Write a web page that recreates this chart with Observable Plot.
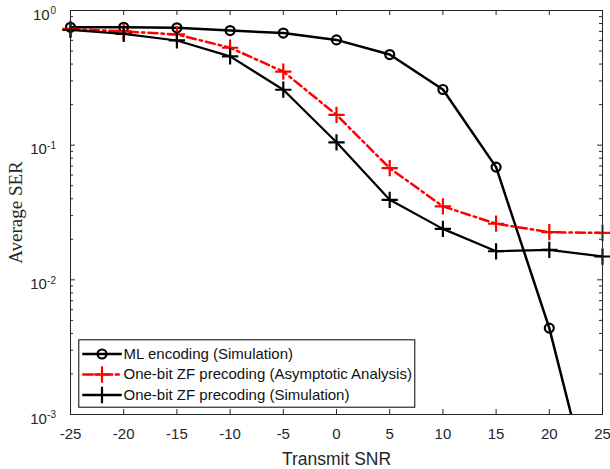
<!DOCTYPE html>
<html>
<head>
<meta charset="utf-8">
<script src="https://cdn.jsdelivr.net/npm/d3@7"></script>
<script src="https://cdn.jsdelivr.net/npm/@observablehq/plot@0.6"></script>
<style>
  html, body { margin: 0; padding: 0; background: #fff; }
</style>
</head>
<body>
<div id="chart"></div>
<script>
// ---- data ----
const snr = [-25, -20, -15, -10, -5, 0, 5, 10, 15, 20, 25];
const mlSim  = [0.75, 0.75, 0.744, 0.71, 0.68, 0.605, 0.471, 0.259, 0.0687, 0.00438, 0.00012];
const zfAsym = [0.73, 0.70, 0.664, 0.529, 0.352, 0.168, 0.0675, 0.0351, 0.0261, 0.0226, 0.0223];
const zfSim  = [0.719, 0.671, 0.599, 0.456, 0.258, 0.105, 0.0393, 0.0239, 0.0163, 0.0167, 0.0149];
const seriesNames = [
  "ML encoding (Simulation)",
  "One-bit ZF precoding (Asymptotic Analysis)",
  "One-bit ZF precoding (Simulation)"
];
const xTicks = [-25, -20, -15, -10, -5, 0, 5, 10, 15, 20, 25];
const yMajor = [1, 0.1, 0.01, 0.001];
const yExp = ["0", "-1", "-2", "-3"];
const yMinor = [];
for (const d of [0.001, 0.01, 0.1]) for (let m = 2; m <= 9; m++) yMinor.push(m * d);

const W = 610, H = 469;
const mL = 70, mR = 8, mT = 10, mB = 55;
const fw = W - mL - mR, fh = H - mT - mB;
const axisColor = "#262626";
const font = "'Liberation Sans', Arial, sans-serif";
const yMin = 0.001;

const ml = snr.map((x, i) => ({x, y: mlSim[i]}));
const za = snr.map((x, i) => ({x, y: zfAsym[i]}));
const zs = snr.map((x, i) => ({x, y: zfSim[i]}));
const inView = d => d.y >= yMin;

const redDash = "9,4,2.5,4";
const plusR = 5.3, circR = 4.5;
const legY = [343.5, 364, 384.5];
const styles = [
  {stroke: "black", dash: null, symbol: "circle", r: circR},
  {stroke: "#ff0000", dash: redDash, symbol: "plus", r: plusR},
  {stroke: "black", dash: null, symbol: "plus", r: plusR}
];

const legendMarks = [];
seriesNames.forEach((name, i) => {
  const s = styles[i];
  legendMarks.push(Plot.frame({anchor: "top", insetTop: legY[i], insetLeft: 13, insetRight: fw - 50,
    stroke: s.stroke, strokeWidth: 2.5, strokeDasharray: s.dash}));
  legendMarks.push(Plot.dot([name], {frameAnchor: "top-left", dx: 31.5, dy: legY[i],
    symbol: s.symbol, r: s.r, stroke: s.stroke, strokeWidth: 2.2, fill: "none"}));
  legendMarks.push(Plot.text([name], {frameAnchor: "top-left", dx: 53, dy: legY[i], text: d => d,
    textAnchor: "start", lineAnchor: "middle", fontSize: 15, fill: "#111"}));
});

const chart = Plot.plot({
  width: W, height: H,
  marginLeft: mL, marginRight: mR, marginTop: mT, marginBottom: mB,
  style: {fontFamily: font, background: "#fff"},
  x: {domain: [-25, 25], axis: null},
  y: {type: "log", domain: [yMin, 1], axis: null},
  marks: [
    // ticks (inward)
    Plot.tickX(xTicks, {x: d => d, insetTop: fh - 5, stroke: axisColor}),
    Plot.tickX(xTicks, {x: d => d, insetBottom: fh - 5, stroke: axisColor}),
    Plot.tickY(yMajor, {y: d => d, insetRight: fw - 5, stroke: axisColor}),
    Plot.tickY(yMajor, {y: d => d, insetLeft: fw - 5, stroke: axisColor}),
    Plot.tickY(yMinor, {y: d => d, insetRight: fw - 3, stroke: axisColor}),
    Plot.tickY(yMinor, {y: d => d, insetLeft: fw - 3, stroke: axisColor}),
    // tick labels
    Plot.text(xTicks, {x: d => d, frameAnchor: "bottom", dy: 19.7, text: d => String(d),
      fontSize: 15, fill: axisColor, textAnchor: "middle", lineAnchor: "middle"}),
    Plot.text(yMajor.filter((d, i) => i === 0), {y: d => d, frameAnchor: "left", dx: -20.8, dy: 4.5,
      text: d => "10", textAnchor: "end", fontSize: 15, fill: axisColor, lineAnchor: "middle"}),
    Plot.text(yMajor.filter((d, i) => i > 0), {y: d => d, frameAnchor: "left", dx: -23.6, dy: 4.5,
      text: d => "10", textAnchor: "end", fontSize: 15, fill: axisColor, lineAnchor: "middle"}),
    Plot.text(yMajor, {y: d => d, frameAnchor: "left", dx: -14.5, dy: 0.5,
      text: (d, i) => yExp[i], textAnchor: "end", fontSize: 10, fill: axisColor, lineAnchor: "middle"}),
    // axis titles
    Plot.text(["Transmit SNR"], {frameAnchor: "bottom", dy: 44.5, text: d => d, fontSize: 17.5,
      fill: axisColor, textAnchor: "middle", lineAnchor: "middle"}),
    Plot.text(["Average SER"], {frameAnchor: "left", dx: -54.5, text: d => d, rotate: -90,
      textAnchor: "middle", lineAnchor: "middle",
      fontSize: 19, fontFamily: "'Liberation Serif', 'Times New Roman', serif", fill: axisColor}),
    // data
    Plot.line(ml, {x: "x", y: "y", stroke: "black", strokeWidth: 2.5, clip: true}),
    Plot.dot(ml, {x: "x", y: "y", filter: inView, symbol: "circle", r: circR, stroke: "black", strokeWidth: 2.2, fill: "none"}),
    Plot.line(za, {x: "x", y: "y", stroke: "#ff0000", strokeWidth: 2.5, strokeDasharray: redDash, clip: true}),
    Plot.dot(za, {x: "x", y: "y", filter: inView, symbol: "plus", r: plusR, stroke: "#ff0000", strokeWidth: 2.2}),
    Plot.line(zs, {x: "x", y: "y", stroke: "black", strokeWidth: 2.2, clip: true}),
    Plot.dot(zs, {x: "x", y: "y", filter: inView, symbol: "plus", r: plusR, stroke: "black", strokeWidth: 2.2}),
    // legend
    Plot.frame({insetLeft: 8.3, insetTop: 329.3, insetRight: fw - 344.3, insetBottom: 7.3, fill: "white", stroke: "black", strokeWidth: 1}),
    ...legendMarks,
    // box
    Plot.frame({stroke: axisColor, strokeWidth: 1})
  ]
});
document.getElementById("chart").appendChild(chart);
</script>
</body>
</html>
